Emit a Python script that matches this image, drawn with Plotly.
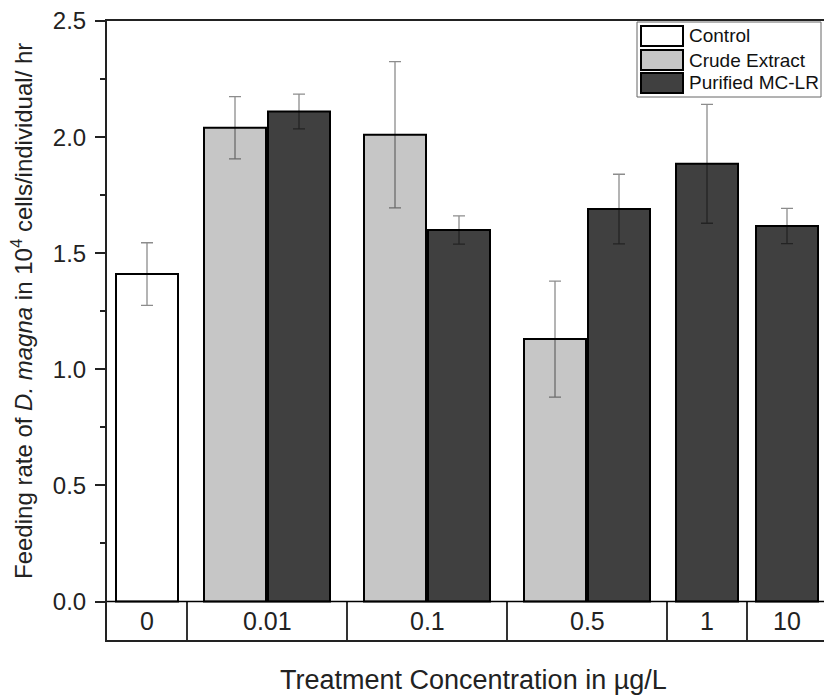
import plotly.graph_objects as go

# Feeding rate of D. magna (10^4 cells/individual/hr), mean and error per treatment
concentrations = ["0", "0.01", "0.1", "0.5", "1", "10"]
control_rate = [1.41, None, None, None, None, None]
control_err = [0.135, None, None, None, None, None]
crude_rate = [None, 2.04, 2.01, 1.13, None, None]
crude_err = [None, 0.134, 0.315, 0.25, None, None]
purified_rate = [None, 2.11, 1.60, 1.69, 1.885, 1.617]
purified_err = [None, 0.075, 0.061, 0.15, 0.256, 0.076]

series_names = ["Control", "Crude Extract", "Purified MC-LR"]
series_fill = ["#ffffff", "#c6c6c6", "#404040"]
series_rate = [control_rate, crude_rate, purified_rate]
series_err = [control_err, crude_err, purified_err]

FONT = "Liberation Sans, Arial, sans-serif"
BAR_W = 0.775
STEP = 0.8

# figure geometry (pixels)
W, H = 824, 700
L, T, B = 107, 21, 60
PX_PER_SLOT = 80.0
PX_PER_UNIT = 232.2
plot_w = W - L
plot_h = H - T - B
x_max = plot_w / PX_PER_SLOT
y_max = 2.5
y_min = y_max - plot_h / PX_PER_UNIT

# each concentration gets one slot per series measured at it
xs = [[] for _ in series_names]
ys = [[] for _ in series_names]
es = [[] for _ in series_names]
group_centers, boundaries = [], []
slot = 0
for i, _ in enumerate(concentrations):
    present = [s for s in range(len(series_names)) if series_rate[s][i] is not None]
    n = len(present)
    center = slot + n / 2
    for k, s in enumerate(present):
        xs[s].append(center + (k - (n - 1) / 2) * STEP)
        ys[s].append(series_rate[s][i])
        es[s].append(series_err[s][i])
    group_centers.append(center)
    slot += n
    boundaries.append(slot)

fig = go.Figure()
for s, name in enumerate(series_names):
    fig.add_trace(go.Bar(
        x=xs[s], y=ys[s], width=BAR_W, name=name, showlegend=False,
        marker=dict(color=series_fill[s], line=dict(color="#000000", width=2)),
        error_y=dict(type="data", array=es[s], color="rgba(0,0,0,0.45)",
                     thickness=1.3, width=6),
    ))

shapes = []
# category table under the bars
shapes.append(dict(type="line", xref="x", yref="y", x0=0, x1=x_max, y0=0, y1=0,
                   line=dict(color="#000000", width=1.6)))
for bnd in boundaries:
    if bnd < x_max:
        shapes.append(dict(type="line", xref="x", yref="y", x0=bnd, x1=bnd,
                           y0=y_min, y1=0, line=dict(color="#000000", width=1.6)))

annotations = []
for c, lab in zip(group_centers, concentrations):
    annotations.append(dict(x=c, y=y_min / 2, xref="x", yref="y", text=lab,
                            showarrow=False, font=dict(family=FONT, size=25, color="#222")))


def px(xp):
    return (xp - L) / plot_w


def py(yp):
    return (H - B - yp) / plot_h


# legend box
shapes.append(dict(type="rect", xref="paper", yref="paper",
                   x0=px(637), x1=px(821), y0=py(97), y1=py(22),
                   line=dict(color="#666666", width=1), fillcolor="#ffffff"))
row_tops = [26, 50, 73]
for s, top in enumerate(row_tops):
    shapes.append(dict(type="rect", xref="paper", yref="paper",
                       x0=px(641), x1=px(683), y0=py(top + 20), y1=py(top),
                       line=dict(color="#000000", width=2), fillcolor=series_fill[s]))
    annotations.append(dict(x=px(687), y=py(top + 10), xref="paper", yref="paper",
                            xanchor="left", yanchor="middle", text=series_names[s],
                            showarrow=False, font=dict(family=FONT, size=19, color="#111")))

# axis titles
annotations.append(dict(
    x=px(22), y=py(311), xref="paper", yref="paper", textangle=-90,
    text="Feeding rate of <i>D. magna</i> in 10<sup>4</sup> cells/individual/ hr",
    showarrow=False, xanchor="center", yanchor="middle",
    font=dict(family=FONT, size=24, color="#222")))
annotations.append(dict(
    x=px(473), y=py(680), xref="paper", yref="paper",
    text="Treatment Concentration in µg/L", showarrow=False,
    xanchor="center", yanchor="middle",
    font=dict(family=FONT, size=27, color="#222")))

fig.update_layout(
    width=W, height=H,
    margin=dict(l=L, r=0, t=T, b=B, pad=0),
    paper_bgcolor="#ffffff", plot_bgcolor="#ffffff",
    barmode="overlay",
    font=dict(family=FONT, color="#222"),
    xaxis=dict(range=[0, x_max], showgrid=False, zeroline=False,
               showticklabels=False, ticks="", showline=True, mirror=True,
               linecolor="#222", linewidth=2),
    yaxis=dict(range=[y_min, y_max], showgrid=False, zeroline=False,
               tickmode="array", tickvals=[0, 0.5, 1.0, 1.5, 2.0, 2.5],
               ticktext=["0.0", "0.5", "1.0", "1.5", "2.0", "2.5"],
               ticks="outside", ticklen=10, tickwidth=1.6, tickcolor="#222",
               ticklabelstandoff=4,
               minor=dict(tickvals=[0.25, 0.75, 1.25, 1.75, 2.25], ticks="outside",
                          ticklen=5, tickwidth=1.6, tickcolor="#222"),
               tickfont=dict(family=FONT, size=24, color="#222"),
               showline=True, linecolor="#222", linewidth=2),
    shapes=shapes, annotations=annotations,
)

fig.write_html("out.html")
